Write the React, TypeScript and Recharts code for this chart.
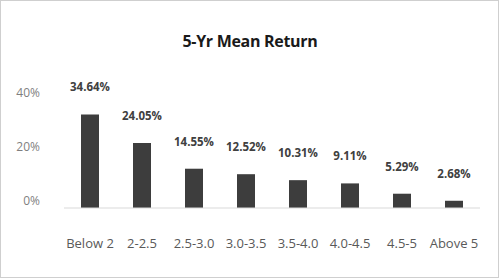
import React from "react";
import { BarChart, Bar, XAxis, YAxis, LabelList } from "recharts";

const categories = ["Below 2", "2-2.5", "2.5-3.0", "3.0-3.5", "3.5-4.0", "4.0-4.5", "4.5-5", "Above 5"];
const meanReturn = [34.64, 24.05, 14.55, 12.52, 10.31, 9.11, 5.29, 2.68];
const yTicks = [0, 20, 40];
const title = "5-Yr Mean Return";

const data = categories.map((c, i) => ({ name: c, value: meanReturn[i] }));

const FONT = "'Open Sans', sans-serif";

const YTick = (props: any) => {
  const { x, y, payload } = props;
  return (
    <text x={x} y={y - 7} dy="0.35em" textAnchor="end" fill="#7f7f7f" fontSize={12} fontFamily={FONT}>
      {payload.value}%
    </text>
  );
};

export default function App() {
  return (
    <div
      style={{
        position: "fixed",
        left: 0,
        top: 0,
        width: 500,
        height: 280,
        background: "#fff",
        overflow: "hidden",
      }}
    >
      <div
        style={{
          position: "absolute",
          left: 0,
          top: 0,
          width: 499,
          height: 278,
          border: "1px solid #cfcfcf",
          boxSizing: "border-box",
        }}
      />
      <div
        style={{
          position: "absolute",
          left: 0,
          top: 30,
          width: 500,
          textAlign: "center",
          fontFamily: FONT,
          fontWeight: 700,
          fontSize: 16,
          lineHeight: "22px",
          color: "#1a1a1a",
          letterSpacing: -0.3,
        }}
      >
        {title}
      </div>
      <BarChart
        width={500}
        height={280}
        data={data}
        margin={{ top: 100, right: 20, bottom: 0, left: 0 }}
        style={{ position: "absolute", left: 0, top: 0 }}
      >
        <YAxis
          width={64}
          domain={[0, 40]}
          ticks={yTicks}
          axisLine={false}
          tickLine={false}
          tickSize={0}
          tickMargin={24}
          tick={<YTick />}
          interval={0}
        />
        <XAxis
          dataKey="name"
          height={72}
          interval={0}
          axisLine={{ stroke: "#d9d9d9", strokeWidth: 1 }}
          tickLine={false}
          tickSize={0}
          tickMargin={31}
          tick={{ fill: "#595959", fontSize: 13, fontFamily: FONT }}
        />
        <Bar dataKey="value" fill="#3d3d3d" barSize={18} isAnimationActive={false}>
          <LabelList
            dataKey="value"
            position="top"
            offset={23}
            formatter={(v: any) => `${Number(v).toFixed(2)}%`}
            style={{ fill: "#404040", fontSize: 11.5, fontWeight: 700, fontFamily: FONT }}
          />
        </Bar>
      </BarChart>
    </div>
  );
}
